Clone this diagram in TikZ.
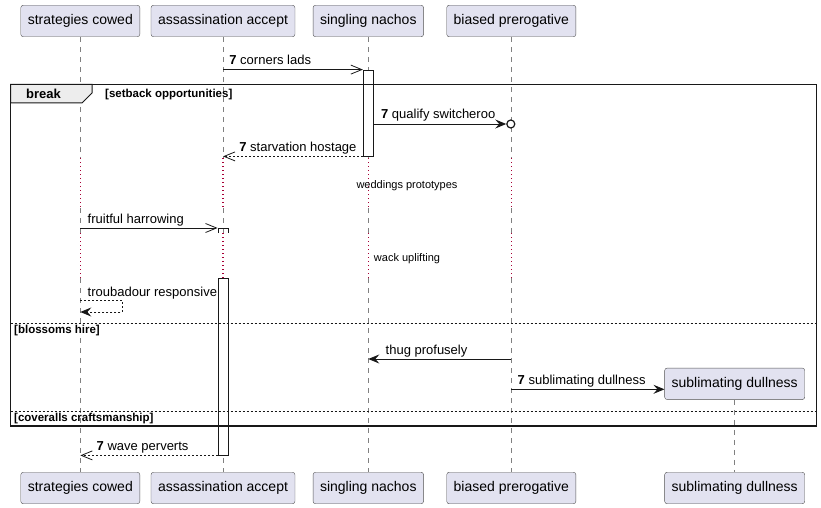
\documentclass[tikz,border=0pt]{standalone}
\usepackage{fontspec}
\setmainfont{Liberation Sans}
\usepackage{tikz}
\usetikzlibrary{arrows.meta}
\definecolor{partfill}{HTML}{E2E2F0}
\definecolor{delayred}{HTML}{A80036}
\definecolor{linegray}{HTML}{181818}
\tikzstyle{part} = [draw=linegray!75, fill=partfill, rounded corners=2.5pt, minimum height=31.5pt, inner xsep=7pt, font=\fontsize{14}{16}\selectfont]
\tikzstyle{life} = [draw=black!50, dash pattern=on 5pt off 5pt, line width=0.6pt]
\tikzstyle{delay} = [draw=delayred, dash pattern=on 1.2pt off 2.8pt, line width=1.1pt]
\tikzstyle{actbox} = [draw=linegray, fill=white, minimum width=10pt, inner sep=0pt, line width=0.8pt]
\tikzstyle{msg} = [draw=linegray, line width=0.8pt]
\tikzstyle{openmsg} = [msg, -{Straight Barb[length=11pt,width=9pt]}]
\tikzstyle{fullmsg} = [msg, -{Stealth[length=11pt,width=9pt,inset=4pt]}]
\tikzstyle{ret} = [dash pattern=on 2pt off 2pt]
\tikzstyle{lbl} = [anchor=base west, inner sep=0pt, font=\fontsize{13}{15}\selectfont]
\tikzstyle{guard} = [anchor=base west, inner sep=0pt, font=\fontsize{11.5}{13}\selectfont\bfseries]
\tikzstyle{delaytxt} = [anchor=base, inner sep=0pt, font=\fontsize{11}{13}\selectfont]

\begin{document}
\begin{tikzpicture}[x=1pt, y=-1pt]
  \useasboundingbox (0,0) rectangle (821,508);

  % Participants
  \node[part] (sctop) at (80.3,21) {strategies cowed};
  \node[part] (aatop) at (223,21) {assassination accept};
  \node[part] (sntop) at (368.3,21) {singling nachos};
  \node[part] (bptop) at (511.3,21) {biased prerogative};
  \node[part] (scbot) at (80.3,488) {strategies cowed};
  \node[part] (aabot) at (223,488) {assassination accept};
  \node[part] (snbot) at (368.3,488) {singling nachos};
  \node[part] (bpbot) at (511.3,488) {biased prerogative};
  \node[part] (sdbot) at (734.7,488) {sublimating dullness};

  % Lifelines with the two delays
  \coordinate (d1s) at (0,158);
  \coordinate (d1e) at (0,208);
  \coordinate (d2s) at (0,233);
  \coordinate (d2e) at (0,278);
  \foreach \p in {sc,aa,sn,bp} {
    \draw[life] (\p top) -- (\p top |- d1s);
    \draw[delay] (\p top |- d1s) -- (\p top |- d1e);
    \draw[life] (\p top |- d1e) -- (\p top |- d2s);
    \draw[delay] (\p top |- d2s) -- (\p top |- d2e);
    \draw[life] (\p top |- d2e) -- (\p bot);
  }
  \node[delaytxt] (wed) at (407,188) {weddings prototypes};
  \node[delaytxt] (wack) at (407,261) {wack uplifting};

  % Activations
  \node[actbox, minimum height=86pt] (snA) at (368.3,113) {};
  \node[actbox, minimum height=177pt] (aaA) at (223,366.5) {};
  \draw[msg] (218,233) |- (228,228) -- (228,233);

  % Created participant
  \node[part] (sdC) at (734.7,383.8) {sublimating dullness};
  \draw[life] (sdC) -- (sdbot);

  % Messages
  \draw[openmsg] (aatop |- snA.north) -- (snA.north west)
    node[lbl, pos=0, xshift=6pt, yshift=5pt] {\textbf{7} corners lads};
  \node[circle, draw=linegray, fill=white, line width=1.2pt, minimum size=8pt, inner sep=0pt] (lost) at (510.8,124) {};
  \draw[fullmsg] (snA.east |- lost) -- (lost.west)
    node[lbl, pos=0, xshift=7pt, yshift=5pt] {\textbf{7} qualify switcheroo};
  \draw[openmsg, ret] (snA.south west) -- (aatop |- snA.south)
    node[lbl, pos=1, xshift=16pt, yshift=5pt] {\textbf{7} starvation hostage};
  \coordinate (m6) at (0,228);
  \draw[openmsg] (sctop |- m6) -- (aaA.west |- m6)
    node[lbl, pos=0, xshift=7pt, yshift=5pt] {fruitful harrowing};
  \coordinate (m8a) at (0,300);
  \coordinate (m8b) at (0,312);
  \draw[fullmsg, ret] (sctop |- m8a) node[lbl, xshift=7pt, yshift=4pt] {troubadour responsive}
    -| ([xshift=42pt]sctop |- m8b) -- (sctop |- m8b);
  \coordinate (m10) at (0,359);
  \draw[fullmsg] (bptop |- m10) -- (sntop |- m10)
    node[lbl, pos=1, xshift=17pt, yshift=5pt] {thug profusely};
  \coordinate (m11) at (0,389.3);
  \draw[fullmsg] (bptop |- m11) -- (sdC.west |- m11)
    node[lbl, pos=0, xshift=6pt, yshift=5pt] {\textbf{7} sublimating dullness};
  \draw[openmsg, ret] (aaA.south west) -- (sctop |- aaA.south)
    node[lbl, pos=1, xshift=16pt, yshift=5pt] {\textbf{7} wave perverts};

  % Break fragment
  \draw[line width=1.5pt, draw=linegray] (10.5,84.5) rectangle (816.5,426);
  \draw[line width=1pt, draw=linegray, fill=black!7] (10.5,84.5) -- (92,84.5) -- (92,93) -- (82,103) -- (10.5,103) -- cycle;
  \node[anchor=base west, inner sep=0pt, font=\fontsize{13}{15}\selectfont\bfseries] (brk) at (26,99) {break};
  \node[guard] (g1) at (105,98) {[setback opportunities]};
  \draw[line width=0.6pt, draw=linegray, dash pattern=on 2pt off 2pt] (10.5,323) -- (816.5,323);
  \node[guard] (g2) at (14,333) {[blossoms hire]};
  \draw[line width=0.6pt, draw=linegray, dash pattern=on 2pt off 2pt] (10.5,411) -- (816.5,411);
  \node[guard] (g3) at (14,421) {[coveralls craftsmanship]};
\end{tikzpicture}
\end{document}
